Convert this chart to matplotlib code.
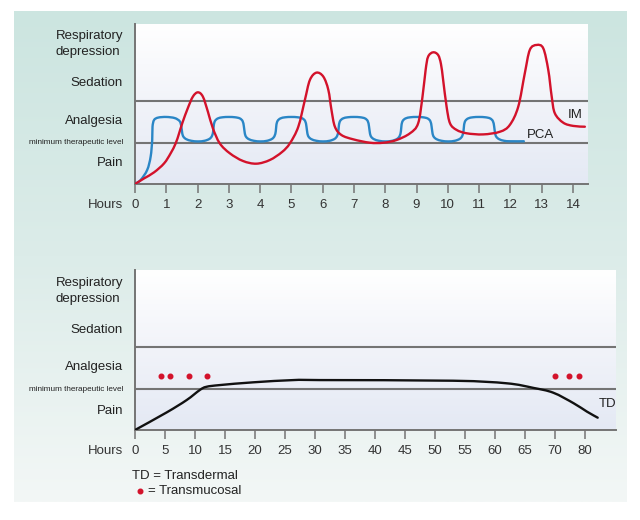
import numpy as np
import matplotlib
matplotlib.use("Agg")
import matplotlib.pyplot as plt
from matplotlib.colors import LinearSegmentedColormap
from matplotlib.lines import Line2D
from matplotlib.path import Path
from matplotlib.patches import PathPatch

plt.rcParams["font.family"] = ["Liberation Sans", "DejaVu Sans"]

# ---- data ----
level_labels = ["Respiratory\ndepression", "Sedation", "Analgesia",
                "minimum therapeutic level", "Pain"]
level_pos_top = [8.76, 6.29, 3.96, 2.58, 1.29]
level_pos_bottom = [8.7, 6.25, 3.92, 2.54, 1.19]
sedation_line = 5.17
mtl_line = 2.56

hours_top = list(range(0, 15))
hours_bottom_pos = [0, 5, 10, 15, 20, 25, 30, 35, 40, 45, 50, 55, 60, 65, 70, 75]
hours_bottom_lbl = ["0", "5", "10", "15", "20", "25", "30", "35", "40", "45",
                    "50", "55", "60", "65", "70", "80"]

im_x = [0, 0.29, 0.61, 0.93, 1.14, 1.3, 1.41, 1.52, 1.69, 1.85, 2.01, 2.17, 2.33,
        2.49, 2.71, 3.03, 3.45, 3.88, 4.31, 4.7, 4.95, 5.22, 5.43, 5.59, 5.8,
        6.02, 6.18, 6.28, 6.39, 6.6, 6.98, 7.51, 7.94, 8.36, 8.79, 9.05, 9.19,
        9.29, 9.37, 9.53, 9.69, 9.78, 9.85, 9.96, 10.07, 10.28, 10.6, 11.13,
        11.67, 11.98, 12.25, 12.46, 12.62, 12.84, 13.05, 13.21, 13.32, 13.42,
        13.69, 14.01, 14.38]
im_y = [0, 0.35, 0.73, 1.29, 1.92, 2.54, 3.17, 3.85, 4.75, 5.46, 5.73, 5.46, 4.52,
        3.48, 2.54, 1.92, 1.44, 1.27, 1.5, 2.0, 2.54, 3.58, 5.25, 6.5, 6.96,
        6.71, 5.88, 4.63, 3.58, 3.06, 2.79, 2.58, 2.58, 2.75, 3.17, 3.79, 5.46,
        7.13, 7.96, 8.23, 8.06, 7.5, 6.5, 4.83, 3.79, 3.38, 3.17, 3.1,
        3.27, 3.69, 4.83, 6.92, 8.38, 8.69, 8.48, 7.13, 5.46, 4.42,
        3.83, 3.63, 3.58]

pca_x = [0, 0.18, 0.39, 0.5, 0.55, 0.56, 0.61, 0.74, 1.0, 1.27, 1.43, 1.48, 1.51,
         1.55, 1.64, 1.8, 2.01, 2.22, 2.38, 2.46, 2.5,
         2.52, 2.56, 2.65, 2.8, 3.0, 3.2, 3.35, 3.44, 3.48, 3.51,
         3.55, 3.64, 3.8, 4.01, 4.22, 4.38, 4.46, 4.5,
         4.52, 4.56, 4.65, 4.8, 5.0, 5.2, 5.35, 5.44, 5.48, 5.51,
         5.55, 5.64, 5.8, 6.01, 6.22, 6.38, 6.46, 6.5,
         6.52, 6.56, 6.65, 6.8, 7.0, 7.2, 7.35, 7.44, 7.48, 7.51,
         7.55, 7.64, 7.8, 8.01, 8.22, 8.38, 8.46, 8.5,
         8.52, 8.56, 8.65, 8.8, 9.0, 9.2, 9.35, 9.44, 9.48, 9.51,
         9.55, 9.64, 9.8, 10.01, 10.22, 10.38, 10.46, 10.5,
         10.52, 10.56, 10.65, 10.8, 11.0, 11.2, 11.35, 11.44, 11.48, 11.51,
         11.55, 11.64, 11.8, 12.0, 12.43]
pca_y = [0, 0.25, 0.88, 1.71, 2.75, 3.58, 4.0, 4.15, 4.19, 4.12, 3.92, 3.6, 3.17,
         2.95, 2.8, 2.7, 2.66, 2.7, 2.82, 3.0, 3.3,
         3.7, 3.95, 4.1, 4.17, 4.19, 4.17, 4.1, 3.93, 3.6, 3.17,
         2.95, 2.8, 2.7, 2.66, 2.7, 2.82, 3.0, 3.3,
         3.7, 3.95, 4.1, 4.17, 4.19, 4.17, 4.1, 3.93, 3.6, 3.17,
         2.95, 2.8, 2.7, 2.66, 2.7, 2.82, 3.0, 3.3,
         3.7, 3.95, 4.1, 4.17, 4.19, 4.17, 4.1, 3.93, 3.6, 3.17,
         2.95, 2.8, 2.7, 2.66, 2.7, 2.82, 3.0, 3.3,
         3.7, 3.95, 4.1, 4.17, 4.19, 4.17, 4.1, 3.93, 3.6, 3.17,
         2.95, 2.8, 2.7, 2.66, 2.7, 2.82, 3.0, 3.3,
         3.7, 3.95, 4.1, 4.17, 4.19, 4.17, 4.1, 3.93, 3.6, 3.17,
         2.95, 2.8, 2.7, 2.67, 2.67]

td_x = [0, 5.28, 8.6, 10.8, 11.9, 14.2, 19.7, 26.4, 30.8, 53, 61.9, 66.4,
        69.7, 73.1, 75.3, 77.1]
td_y = [0, 1.1, 1.87, 2.5, 2.7, 2.81, 2.98, 3.12, 3.12, 3.08, 2.92, 2.63,
        2.33, 1.67, 1.15, 0.77]

tm_x = [4.3, 5.8, 9.05, 12.0, 70.0, 72.3, 74.0]
tm_y = [3.4, 3.4, 3.4, 3.4, 3.4, 3.4, 3.4]

RED = "#d3122b"
BLUE = "#2a86c6"
TXT = "#222222"
GREY = "#747474"
FS = 9.5


def smooth_line(ax, xs, ys, color, lw=1.7, z=3):
    # draw a curve through the read points as a Catmull-Rom style bezier path
    p = np.column_stack([xs, ys]).astype(float)
    verts = [p[0]]
    codes = [Path.MOVETO]
    n = len(p)
    for i in range(n - 1):
        p0 = p[i - 1] if i > 0 else p[i]
        p3 = p[i + 2] if i + 2 < n else p[i + 1]
        c1 = p[i] + (p[i + 1] - p0) / 6.0
        c2 = p[i + 1] - (p3 - p[i]) / 6.0
        verts += [c1, c2, p[i + 1]]
        codes += [Path.CURVE4] * 3
    ax.add_patch(PathPatch(Path(verts, codes), facecolor="none", edgecolor=color,
                           lw=lw, zorder=z, capstyle="round", joinstyle="round"))


fig = plt.figure(figsize=(6.4, 5.2), dpi=100)

# teal panel behind everything
W, H = 640, 520
bg = fig.add_axes([14 / W, 1 - 502 / H, (627 - 14) / W, (502 - 11) / H], zorder=-5)
panel_cmap = LinearSegmentedColormap.from_list("panel", ["#cce5e0", "#dcece9", "#f3f7f6"])
bg.imshow(np.linspace(0, 1, 256).reshape(-1, 1), cmap=panel_cmap, aspect="auto",
          extent=[0, 1, 0, 1], origin="upper")
bg.axis("off")

plot_cmap = LinearSegmentedColormap.from_list("plotbg", ["#ffffff", "#f1f3f9", "#e4e9f4"])


def setup(ax, xmax, level_pos, ticks, ticklabels, width_px):
    ax.set_facecolor("none")
    ax.set_xlim(0, xmax)
    ax.set_ylim(0, 10)
    ax.imshow(np.linspace(0, 1, 256).reshape(-1, 1), cmap=plot_cmap, aspect="auto",
              extent=[0, xmax, 0, 10], origin="upper", zorder=0)
    for s in ["top", "right"]:
        ax.spines[s].set_visible(False)
    for s in ["left", "bottom"]:
        ax.spines[s].set_color(GREY)
        ax.spines[s].set_linewidth(1.4)
    ax.set_yticks([])
    ax.set_xticks(ticks)
    ax.set_xticklabels(ticklabels)
    ax.tick_params(axis="x", length=6.5, width=1.1, color=GREY, pad=4.5,
                   labelsize=FS, labelcolor="#333333")
    ax.axhline(sedation_line, color=GREY, lw=1.5, zorder=1)
    ax.axhline(mtl_line, color=GREY, lw=1.5, zorder=1)
    xo = -12 / width_px
    for lbl, y in zip(level_labels, level_pos):
        size = 5.85 if lbl.startswith("minimum") else FS
        ax.text(xo, y, lbl, transform=ax.get_yaxis_transform(), ha="right",
                va="center", multialignment="left", fontsize=size, color=TXT,
                linespacing=1.4)
    ax.text(xo, -21 / 160, "Hours", transform=ax.transAxes, ha="right",
            va="center", fontsize=FS, color="#333333")


# top panel: IM vs PCA
ax1 = fig.add_axes([135 / W, 1 - 184 / H, (588 - 135) / W, 160 / H])
setup(ax1, 14.48, level_pos_top, hours_top, [str(h) for h in hours_top], 453)
smooth_line(ax1, pca_x, pca_y, BLUE, z=3)
smooth_line(ax1, im_x, im_y, RED, z=4)
ax1.text(13.84, 4.3, "IM", fontsize=FS, color=TXT, va="center", ha="left", zorder=5)
ax1.text(12.53, 3.06, "PCA", fontsize=FS, color=TXT, va="center", ha="left", zorder=5)

# bottom panel: transdermal / transmucosal
ax2 = fig.add_axes([135 / W, 1 - 430 / H, (615.7 - 135) / W, 160 / H])
setup(ax2, 80.1, level_pos_bottom, hours_bottom_pos, hours_bottom_lbl, 480.7)
smooth_line(ax2, td_x, td_y, "#111111", z=3)
ax2.plot(tm_x, tm_y, "o", color=RED, ms=3.3, zorder=4)
ax2.text(77.2, 1.6, "TD", fontsize=FS, color=TXT, va="center", ha="left", zorder=5)

# key
fig.text(131.7 / W, 1 - 476 / H, "TD = Transdermal", fontsize=FS, color=TXT,
         ha="left", va="center")
fig.add_artist(Line2D([140 / W], [1 - 490.7 / H], marker="o", color=RED, ms=3.3,
                      transform=fig.transFigure))
fig.text(148 / W, 1 - 490.7 / H, "= Transmucosal", fontsize=FS, color=TXT,
         ha="left", va="center")

fig.savefig("out.png", dpi=100)
